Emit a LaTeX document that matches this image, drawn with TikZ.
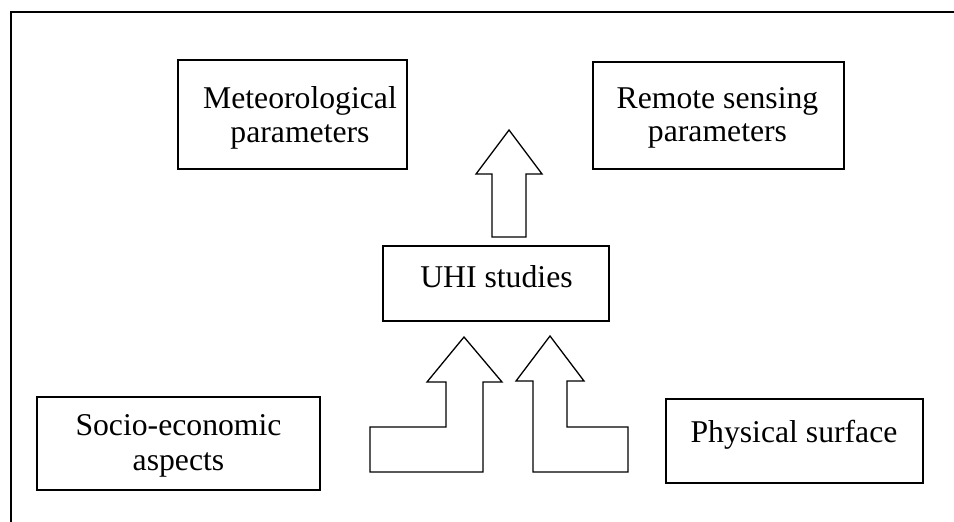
\documentclass[tikz,border=0pt]{standalone}
\usepackage{fontspec}
\setmainfont{Liberation Serif}
\begin{document}
\begin{tikzpicture}[x=1pt,y=-1pt,
  box/.style={draw, line width=1.5pt, rectangle, inner sep=0pt},
  lbl/.style={anchor=base, inner sep=0pt, font=\fontsize{31.7}{34}\selectfont},
  blockarrow/.style={draw, line width=1.3pt, line join=miter, fill=white},
  frame/.style={draw, line width=1.3pt}]
\useasboundingbox (0,0) rectangle (954,522);
% outer frame (top and left sides)
\coordinate (ftr) at (954,12);
\coordinate (ftl) at (11,12);
\coordinate (fbl) at (11,522);
\draw[frame] (ftr) -- (ftl) -- (fbl);
% boxes
\node[box, minimum width=229pt, minimum height=109pt] (met) at (292.5,114.5) {};
\node[box, minimum width=251pt, minimum height=107pt] (rem) at (718.5,115.5) {};
\node[box, minimum width=226pt, minimum height=75pt] (uhi) at (496,283.5) {};
\node[box, minimum width=283pt, minimum height=93pt] (soc) at (178.5,443.5) {};
\node[box, minimum width=257pt, minimum height=84pt] (phy) at (794.5,441) {};
% texts
\node[lbl] (met1) at (300,108) {Meteorological};
\node[lbl] (met2) at (300,142) {parameters};
\node[lbl] (rem1) at (717.5,108) {Remote sensing};
\node[lbl] (rem2) at (717.5,141) {parameters};
\node[lbl] (uhit) at (496.5,287) {UHI studies};
\node[lbl] (soc1) at (178.5,435) {Socio-economic};
\node[lbl] (soc2) at (178.5,470) {aspects};
\node[lbl] (phyt) at (794,442) {Physical surface};
% top block arrow
\draw[blockarrow] (492,237) -- (492,174) -- (476,174) -- (509,130) -- (542,174)
  -- (526,174) -- (526,237) -- cycle;
% lower left bent block arrow
\draw[blockarrow] (370,472) -- (370,427) -- (446,427) -- (446,382) -- (427,382)
  -- (464,337) -- (502,382) -- (483,382) -- (483,472) -- cycle;
% lower right bent block arrow
\draw[blockarrow] (628,472) -- (628,427) -- (567,427) -- (567,381) -- (584,381)
  -- (550,336) -- (516,381) -- (533,381) -- (533,472) -- cycle;
\end{tikzpicture}
\end{document}
